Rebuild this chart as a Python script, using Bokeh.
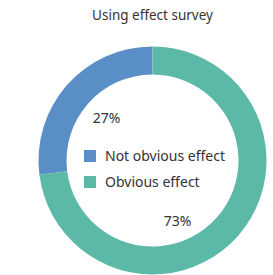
import math
from bokeh.plotting import figure
from bokeh.models import Range1d, Legend, LegendItem, ColumnDataSource
from bokeh.core.properties import value
from bokeh.embed import file_html
from bokeh.resources import INLINE

title_text = "Using effect survey"
categories = ["Not obvious effect", "Obvious effect"]
values = [27, 73]
colors = ["#5A8EC6", "#5DB9A7"]

W, H = 273, 275
p = figure(width=W, height=H, output_backend="svg", toolbar_location=None,
           x_range=Range1d(0, W), y_range=Range1d(-H, 0),
           min_border=0, outline_line_color=None)
p.axis.visible = False
p.grid.visible = False
p.background_fill_color = "white"
p.border_fill_color = "white"

cx, cy = 152, -160
r_in, r_out = 86, 114
total = sum(values)
start = math.pi / 2
starts, ends = [], []
for v in values:
    a = 2 * math.pi * v / total
    starts.append(start)
    ends.append(start + a)
    start += a

p.annular_wedge(x=[cx] * len(values), y=[cy] * len(values), inner_radius=r_in, outer_radius=r_out,
                start_angle=starts, end_angle=ends, direction="anticlock",
                fill_color=colors, line_color=None)

# percentage labels
label_pos = [(106, -117), (177, -220)]
pct = [f"{round(100 * v / total)}%" for v in values]
p.text(x=[q[0] for q in label_pos], y=[q[1] for q in label_pos], text=pct,
       text_align="center", text_baseline="middle", text_font_size="14px",
       text_font=value("Noto Sans"), text_color="#333333")

# title
p.text(x=[152], y=[-14], text=[title_text], text_align="center", text_baseline="middle",
       text_font_size="13.5px", text_font=value("Noto Sans"), text_color="#333333")

# legend swatches (zero-size quads, only used for the legend glyphs)
items = []
for c, lab in zip(colors, categories):
    src = ColumnDataSource(dict(left=[cx], right=[cx], top=[cy], bottom=[cy]))
    r = p.quad(left="left", right="right", top="top", bottom="bottom", source=src,
               fill_color=c, line_color=None)
    items.append(LegendItem(label=lab, renderers=[r]))

legend = Legend(items=items, location=(82, 84), glyph_width=15, glyph_height=15,
                label_height=15, spacing=7, padding=0, margin=0, label_standoff=8,
                label_text_font_size="14px", label_text_font="Noto Sans",
                label_text_color="#333333", border_line_alpha=0, background_fill_alpha=0)
p.add_layout(legend, "center")

open("out.html", "w").write(file_html(p, INLINE))
